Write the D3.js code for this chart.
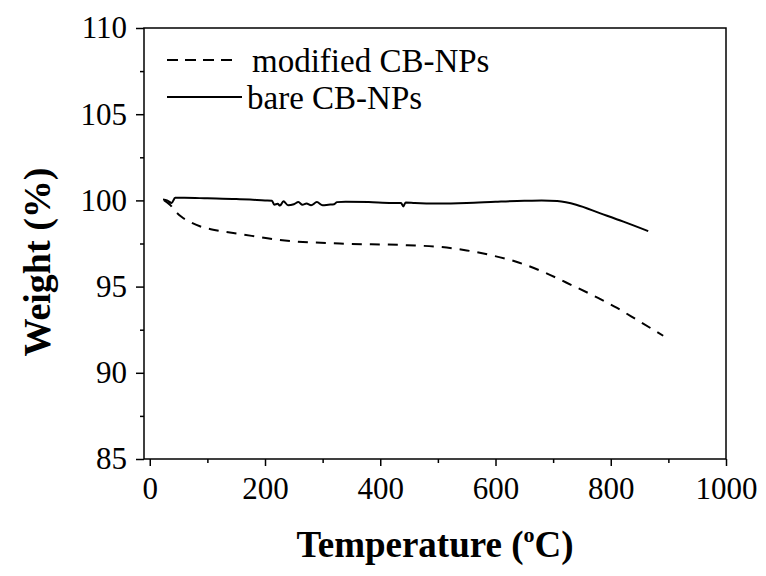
<!DOCTYPE html>
<html lang="en">
<head>
    <meta charset="UTF-8">
    <title>TGA curves of CB-NPs</title>
    <script src="https://d3js.org/d3.v7.min.js"></script>
    <style>
        body { margin: 0; background: #fff; }
        svg { display: block; font-family: "Liberation Serif", "Times New Roman", serif; }
    </style>
</head>
<body>
    <div id="chart"></div>
    <script>
        // bare CB-NPs (solid line)
        const bareTemp = [23, 30, 38, 44, 60, 100, 150, 200, 212, 216, 222, 226, 232, 240, 250, 258, 265, 272, 280, 290,
            300, 310, 320, 325, 340, 380, 420, 436, 440, 444, 460, 500, 550, 600, 650, 680, 707, 740, 782, 822, 865];
        const bareWeight = [100.05, 100.0, 99.85, 100.15, 100.15, 100.12, 100.08, 100.0, 99.98, 99.75, 99.8, 99.7, 99.95, 99.72, 99.78, 99.9, 99.75, 99.82, 99.72, 99.9,
            99.72, 99.75, 99.78, 99.9, 99.92, 99.9, 99.85, 99.85, 99.65, 99.88, 99.85, 99.82, 99.85, 99.92, 99.98, 100.0, 99.96, 99.75, 99.25, 98.77, 98.22];

        // modified CB-NPs (dashed line)
        const modTemp = [25, 35, 45, 55, 70, 87, 110, 157, 226, 330, 447, 504, 550, 591, 640, 683, 735, 777, 811, 846, 891];
        const modWeight = [100.0, 99.75, 99.35, 99.05, 98.75, 98.5, 98.3, 98.05, 97.7, 97.5, 97.4, 97.3, 97.1, 96.83, 96.4, 95.85, 95.04, 94.36, 93.76, 93.06, 92.15];

        const xMajor = [0, 200, 400, 600, 800, 1000];
        const xMinor = [100, 300, 500, 700, 900];
        const yMajor = [85, 90, 95, 100, 105, 110];
        const yMinor = [87.5, 92.5, 97.5, 102.5, 107.5];
        const legendLabels = ["modified CB-NPs", "bare CB-NPs"];

        const width = 766, height = 576;
        const plotLeft = 144, plotRight = 726, plotTop = 28, plotBottom = 459;

        const svg = d3.select("#chart").append("svg")
            .attr("width", width)
            .attr("height", height);

        const x = d3.scaleLinear().domain([-10, 1000]).range([plotLeft, plotRight]);
        const y = d3.scaleLinear().domain([85, 110]).range([plotBottom, plotTop]);

        // x axis ticks
        svg.append("g")
            .attr("transform", `translate(0,${plotBottom})`)
            .call(d3.axisBottom(x).tickValues(xMajor).tickSize(7).tickSizeOuter(0).tickPadding(11).tickFormat(d3.format("d")));
        svg.append("g")
            .attr("transform", `translate(0,${plotBottom})`)
            .call(d3.axisBottom(x).tickValues(xMinor).tickSize(4).tickSizeOuter(0).tickFormat(""));

        // y axis ticks
        svg.append("g")
            .attr("transform", `translate(${plotLeft},0)`)
            .call(d3.axisLeft(y).tickValues(yMajor).tickSize(8).tickSizeOuter(0).tickPadding(9).tickFormat(d3.format("d")));
        svg.append("g")
            .attr("transform", `translate(${plotLeft},0)`)
            .call(d3.axisLeft(y).tickValues(yMinor).tickSize(4).tickSizeOuter(0).tickFormat(""));

        svg.selectAll(".domain").remove();
        svg.selectAll(".tick line").attr("stroke", "#000").attr("stroke-width", 1.5);
        svg.selectAll(".tick text")
            .attr("font-family", "Liberation Serif, Times New Roman, serif")
            .attr("font-size", 31)
            .attr("fill", "#000");

        // frame
        svg.append("rect")
            .attr("x", plotLeft).attr("y", plotTop)
            .attr("width", plotRight - plotLeft).attr("height", plotBottom - plotTop)
            .attr("fill", "none")
            .attr("stroke", "#000")
            .attr("stroke-width", 1.5);

        const line = d3.line()
            .x(d => x(d[0]))
            .y(d => y(d[1]))
            .curve(d3.curveMonotoneX);

        svg.append("path")
            .datum(modTemp.map((t, i) => [t, modWeight[i]]))
            .attr("d", line)
            .attr("fill", "none")
            .attr("stroke", "#000")
            .attr("stroke-width", 2)
            .attr("stroke-dasharray", "10,8");

        svg.append("path")
            .datum(bareTemp.map((t, i) => [t, bareWeight[i]]))
            .attr("d", line)
            .attr("fill", "none")
            .attr("stroke", "#000")
            .attr("stroke-width", 2);

        // legend
        const legend = svg.append("g");
        legendLabels.forEach((label, i) => {
            const ly = 60 + i * 37;
            legend.append("line")
                .attr("x1", 167).attr("x2", i === 0 ? 238 : 242)
                .attr("y1", ly).attr("y2", ly)
                .attr("stroke", "#000")
                .attr("stroke-width", 2)
                .attr("stroke-dasharray", i === 0 ? "11,7" : null);
            legend.append("text")
                .attr("x", i === 0 ? 252 : 247)
                .attr("y", ly + 12)
                .attr("font-size", 33)
                .text(label);
        });

        // axis titles
        const xTitle = svg.append("text")
            .attr("x", (plotLeft + plotRight) / 2)
            .attr("y", 557)
            .attr("text-anchor", "middle")
            .attr("font-size", 37)
            .attr("font-weight", "bold");
        xTitle.append("tspan").text("Temperature (");
        xTitle.append("tspan").attr("font-size", 22).attr("dy", -15).text("o");
        xTitle.append("tspan").attr("dy", 15).text("C)");

        svg.append("text")
            .attr("transform", "translate(50,262) rotate(-90)")
            .attr("text-anchor", "middle")
            .attr("font-size", 38)
            .attr("font-weight", "bold")
            .text("Weight (%)");
    </script>
</body>
</html>
